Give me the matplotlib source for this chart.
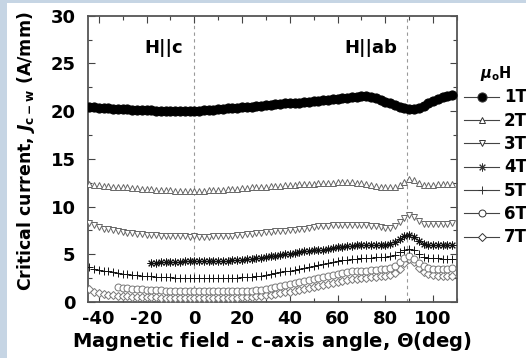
import numpy as np
import matplotlib
matplotlib.use("Agg")
import matplotlib.pyplot as plt
from matplotlib.lines import Line2D
from matplotlib.patches import Rectangle

plt.rcParams['font.family'] = ['DejaVu Sans']
plt.rcParams['font.weight'] = 'bold'
plt.rcParams['axes.labelweight'] = 'bold'
plt.rcParams['axes.unicode_minus'] = False
plt.rcParams['mathtext.fontset'] = 'custom'
plt.rcParams['mathtext.rm'] = 'DejaVu Sans:bold'
plt.rcParams['mathtext.it'] = 'DejaVu Sans:italic:bold'
plt.rcParams['mathtext.bf'] = 'DejaVu Sans:bold'

nan = np.nan

# angle grid (deg)
angles = np.arange(-44, 110, 2)

# Jc-w (A/mm) for each field
j_1T = [20.4, 20.4, 20.3, 20.3, 20.3, 20.2, 20.2, 20.2, 20.2, 20.1,
        20.1, 20.1, 20.1, 20.1, 20.0, 20.0, 20.0, 20.0, 20.0, 20.0,
        20.0, 20.0, 20.0, 20.0, 20.1, 20.1, 20.1, 20.2, 20.2, 20.3,
        20.3, 20.3, 20.4, 20.4, 20.4, 20.5, 20.5, 20.6, 20.6, 20.7,
        20.7, 20.8, 20.8, 20.9, 20.9, 21.0, 21.0, 21.1, 21.1, 21.2,
        21.2, 21.3, 21.3, 21.4, 21.4, 21.5, 21.5, 21.6, 21.6, 21.5,
        21.4, 21.2, 21.0, 20.8, 20.6, 20.4, 20.3, 20.2, 20.2, 20.3,
        20.5, 20.8, 21.1, 21.3, 21.5, 21.6, 21.7]
j_2T = [12.4, 12.3, 12.3, 12.2, 12.2, 12.1, 12.1, 12.0, 12.0, 11.9,
        11.9, 11.8, 11.8, 11.8, 11.7, 11.7, 11.7, 11.7, 11.6, 11.6,
        11.6, 11.6, 11.6, 11.6, 11.6, 11.7, 11.7, 11.7, 11.7, 11.8,
        11.8, 11.8, 11.9, 11.9, 12.0, 12.0, 12.1, 12.1, 12.2, 12.2,
        12.2, 12.3, 12.3, 12.3, 12.4, 12.4, 12.4, 12.4, 12.5, 12.5,
        12.5, 12.5, 12.6, 12.6, 12.6, 12.6, 12.5, 12.5, 12.4, 12.3,
        12.2, 12.1, 12.0, 12.0, 12.1, 12.3, 12.6, 12.9, 12.8, 12.5,
        12.3, 12.3, 12.3, 12.4, 12.4, 12.4, 12.4]
j_3T = [8.3, 8.1, 7.9, 7.7, 7.6, 7.5, 7.4, 7.3, 7.2, 7.2,
        7.1, 7.1, 7.0, 7.0, 7.0, 6.9, 6.9, 6.9, 6.9, 6.9,
        6.9, 6.8, 6.9, 6.8, 6.8, 6.8, 6.9, 6.9, 6.9, 6.9,
        6.9, 7.0, 7.0, 7.1, 7.1, 7.2, 7.2, 7.3, 7.3, 7.4,
        7.4, 7.4, 7.5, 7.5, 7.6, 7.7, 7.8, 7.9, 8.0, 8.0,
        8.0, 8.1, 8.1, 8.1, 8.1, 8.1, 8.1, 8.1, 8.1, 8.0,
        8.0, 7.9, 7.8, 7.8, 8.0, 8.4, 8.8, 9.1, 8.9, 8.5,
        8.2, 8.2, 8.2, 8.2, 8.2, 8.2, 8.3]
j_4T = [nan, nan, nan, nan, nan, nan, nan, nan, nan, nan,
        nan, nan, nan, 4.1, 4.1, 4.2, 4.2, 4.2, 4.2, 4.2,
        4.3, 4.3, 4.3, 4.3, 4.3, 4.3, 4.3, 4.3, 4.3, 4.3,
        4.4, 4.4, 4.4, 4.5, 4.5, 4.6, 4.6, 4.7, 4.8, 4.8,
        4.9, 5.0, 5.0, 5.1, 5.2, 5.3, 5.3, 5.4, 5.5, 5.5,
        5.6, 5.7, 5.8, 5.8, 5.9, 5.9, 6.0, 6.0, 6.0, 6.0,
        6.0, 6.0, 6.0, 6.1, 6.3, 6.6, 6.9, 7.0, 6.8, 6.4,
        6.1, 6.0, 6.0, 6.0, 6.0, 6.0, 6.0]
j_5T = [3.7, 3.5, 3.4, 3.3, 3.2, 3.1, 3.0, 2.9, 2.9, 2.8,
        2.8, 2.7, 2.7, 2.7, 2.6, 2.6, 2.6, 2.6, 2.5, 2.5,
        2.5, 2.5, 2.5, 2.5, 2.5, 2.5, 2.5, 2.5, 2.5, 2.5,
        2.5, 2.5, 2.6, 2.6, 2.6, 2.7, 2.7, 2.8, 2.9, 3.0,
        3.1, 3.2, 3.3, 3.4, 3.5, 3.6, 3.7, 3.8, 3.9, 4.0,
        4.1, 4.2, 4.3, 4.4, 4.4, 4.5, 4.5, 4.6, 4.6, 4.6,
        4.7, 4.7, 4.7, 4.8, 4.9, 5.2, 5.5, 5.6, 5.4, 5.0,
        4.7, 4.6, 4.6, 4.6, 4.5, 4.5, 4.5]
j_6T = [nan, nan, nan, nan, nan, nan, 1.6, 1.5, 1.5, 1.4,
        1.4, 1.4, 1.3, 1.3, 1.3, 1.3, 1.2, 1.2, 1.2, 1.2,
        1.2, 1.2, 1.2, 1.2, 1.2, 1.2, 1.2, 1.2, 1.2, 1.2,
        1.2, 1.2, 1.2, 1.2, 1.2, 1.3, 1.3, 1.4, 1.5, 1.6,
        1.7, 1.8, 1.9, 2.0, 2.1, 2.2, 2.3, 2.4, 2.5, 2.6,
        2.7, 2.8, 2.9, 3.0, 3.1, 3.2, 3.2, 3.3, 3.3, 3.4,
        3.4, 3.5, 3.5, 3.6, 3.8, 4.2, 4.6, 4.8, 4.5, 4.1,
        3.8, 3.6, 3.5, 3.5, 3.5, 3.5, 3.6]
j_7T = [1.4, 1.1, 0.9, 0.8, 0.7, 0.7, 0.6, 0.6, 0.6, 0.5,
        0.5, 0.5, 0.5, 0.5, 0.5, 0.4, 0.4, 0.4, 0.4, 0.4,
        0.4, 0.4, 0.4, 0.4, 0.4, 0.4, 0.4, 0.4, 0.4, 0.4,
        0.4, 0.4, 0.5, 0.5, 0.5, 0.6, 0.6, 0.7, 0.7, 0.8,
        0.9, 1.0, 1.1, 1.2, 1.3, 1.4, 1.5, 1.6, 1.7, 1.8,
        1.9, 2.0, 2.1, 2.2, 2.3, 2.4, 2.4, 2.5, 2.5, 2.6,
        2.6, 2.7, 2.7, 2.8, 3.0, 3.5, 4.1, 4.5, 4.2, 3.6,
        3.1, 2.9, 2.8, 2.7, 2.7, 2.7, 2.7]

labels = ['1T', '2T', '3T', '4T', '5T', '6T', '7T']
series = [j_1T, j_2T, j_3T, j_4T, j_5T, j_6T, j_7T]
markers = ['o', '^', 'v', (8, 2, 0), '+', 'o', 'D']
sizes = [6.6, 5.0, 5.0, 5.6, 5.6, 5.0, 4.0]
faces = ['black', 'white', 'white', 'black', 'black', 'white', 'white']
edges = ['black', '#666666', '#666666', '#111111', '#111111', '#777777', '#777777']

fig = plt.figure(figsize=(5.26, 3.58), dpi=100)
fig.patch.set_facecolor('#c6d5e4')
fig.patches.append(Rectangle((7 / 526, 0), 1, 1 - 3 / 358, transform=fig.transFigure,
                             facecolor='white', edgecolor='none', zorder=-5))
ax = fig.add_axes([88 / 526, 1 - 302 / 358, 369 / 526, 286.3 / 358])
ax.set_zorder(2)
ax.patch.set_alpha(0)

ax.axvline(0, color='#999999', lw=0.8, ls=(0, (3, 3)), zorder=1)
ax.axvline(89, color='#999999', lw=0.8, ls=(0, (3, 3)), zorder=1)

# draw higher fields first so 1T sits on top
for i in range(len(series) - 1, -1, -1):
    ax.plot(angles, series[i], ls='none', marker=markers[i], ms=sizes[i],
            mfc=faces[i], mec=edges[i], mew=0.7, zorder=2 + (7 - i))

ax.set_xlim(-44.5, 109.5)
ax.set_ylim(0, 30)
ax.set_xticks(np.arange(-40, 101, 20))
ax.set_xticks(np.arange(-40, 111, 10), minor=True)
ax.set_yticks(np.arange(0, 31, 5))
ax.set_yticks(np.arange(0, 31, 2.5), minor=True)
ax.tick_params(which='both', direction='in', top=True, right=True,
               labelsize=13, color='#444444', width=0.8)
ax.tick_params(which='major', length=5)
ax.tick_params(which='minor', length=3)
ax.tick_params(axis='x', pad=6)
ax.tick_params(axis='y', pad=9)
for lab in ax.get_xticklabels() + ax.get_yticklabels():
    lab.set_fontweight('bold')
for s in ax.spines.values():
    s.set_color('#555555')
    s.set_linewidth(1.3)

ax.set_xlabel(r'Magnetic field - c-axis angle, $\mathit{\Theta}$(deg)', fontsize=14,
              fontweight='bold', labelpad=1)
ax.set_ylabel(r'Critical current, $J_{\mathrm{c-w}}$ (A/mm)', fontsize=12.5,
              fontweight='bold')
ax.yaxis.set_label_coords(-0.138, 0.525)

ax.text(-13, 26.6, 'H||c', fontsize=13, fontweight='bold', ha='center', va='center')
ax.text(74, 26.6, 'H||ab', fontsize=13, fontweight='bold', ha='center', va='center')

handles = [Line2D([], [], color='#444444', lw=0.8, marker=markers[i], ms=sizes[i],
                  mfc=faces[i], mec='#333333', mew=0.7) for i in range(len(labels))]
leg = ax.legend(handles, labels, loc='upper left', bbox_to_anchor=(464 / 526, 1 - 64 / 358),
                bbox_transform=fig.transFigure, frameon=False,
                prop={'size': 12, 'weight': 'bold'},
                handlelength=2.1, handletextpad=0.3, labelspacing=0.32,
                borderpad=0, borderaxespad=0, title=r'$\mu_\mathrm{o}$H',
                title_fontproperties={'size': 10.5, 'weight': 'bold'})

fig.savefig('out.png', dpi=100, facecolor=fig.get_facecolor())
